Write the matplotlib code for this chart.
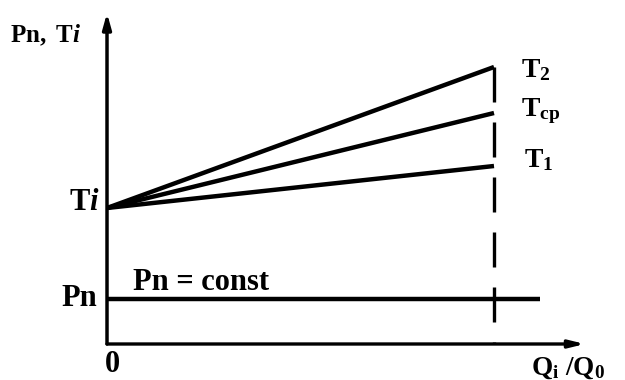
import matplotlib
matplotlib.use("Agg")
import matplotlib.pyplot as plt

plt.rcParams['font.family'] = ['Liberation Serif', 'DejaVu Serif']
plt.rcParams['font.weight'] = 'bold'
plt.rcParams['mathtext.fontset'] = 'custom'
plt.rcParams['mathtext.rm'] = 'Liberation Serif:bold'
plt.rcParams['mathtext.bf'] = 'Liberation Serif:bold'
plt.rcParams['mathtext.it'] = 'Liberation Serif:bold:italic'

# schematic values (relative units)
x_start = 0.0
x_end = 1.0            # Q_i/Q_0 where the curves stop
x_pn_end = 1.12        # end of the Pn = const line
x_axis_max = 1.235
y_axis_max = 3.31

t_start = 1.36         # Ti
t_ends = [2.77, 2.31, 1.78]   # T2, Tcp, T1
t_labels = [r"$\mathrm{T}_{\mathrm{2}}$", r"$\mathrm{T}_{\mathrm{cp}}$", r"$\mathrm{T}_{\mathrm{1}}$"]
t_label_y = [2.74, 2.33, 1.84]
t_label_x = [1.07, 1.07, 1.078]
pn = 0.45

fig = plt.figure(figsize=(6.25, 3.8), dpi=100)
ax = fig.add_axes([0, 0, 1, 1])
ax.set_xlim(-0.2765, 1.3385)
ax.set_ylim(-0.36, 3.44)
ax.axis('off')

# axes with arrows
ax.annotate("", xy=(0, y_axis_max), xytext=(0, 0),
            arrowprops=dict(arrowstyle="-|>,head_length=0.9,head_width=0.25",
                            lw=2.5, color="black", shrinkA=0, shrinkB=0))
ax.annotate("", xy=(x_axis_max, 0), xytext=(0, 0),
            arrowprops=dict(arrowstyle="-|>,head_length=0.9,head_width=0.22",
                            lw=2.4, color="black", shrinkA=0, shrinkB=0))

# temperature lines
for te in t_ends:
    ax.plot([x_start, x_end], [t_start, te], color="black", lw=3.2,
            solid_capstyle="butt")

# dashed vertical at x_end
ax.plot([x_end, x_end], [max(t_ends), 0], color="black", lw=2.4,
        linestyle=(0, (10.5, 6)))

# Pn const line
ax.plot([0, x_pn_end], [pn, pn], color="black", lw=3.2, solid_capstyle="butt")

fs = 22
for lbl, lx, ly in zip(t_labels, t_label_x, t_label_y):
    ax.text(lx, ly, lbl, fontsize=20, ha="left", va="center")

ax.text(-0.018, 1.42, r"$\mathrm{T}\mathit{i}$", fontsize=fs, ha="right", va="center")
ax.text(-0.025, 0.46, "Pn", fontsize=fs, ha="right", va="center", fontweight="bold")
ax.text(0.067, 0.61, "Pn = const", fontsize=fs, ha="left", va="center", fontweight="bold")
ax.text(0.013, -0.21, "0", fontsize=fs, ha="center", va="center", fontweight="bold")
ax.text(1.096, -0.24, r"$\mathrm{Q}_{\mathrm{i}}\ /\mathrm{Q}_{\mathrm{0}}$", fontsize=19.5,
        ha="left", va="center")
ax.text(-0.25, 3.09, r"$\mathrm{Pn,\ T}\mathit{i}$", fontsize=18, ha="left", va="center")

fig.savefig("out.png", dpi=100)
